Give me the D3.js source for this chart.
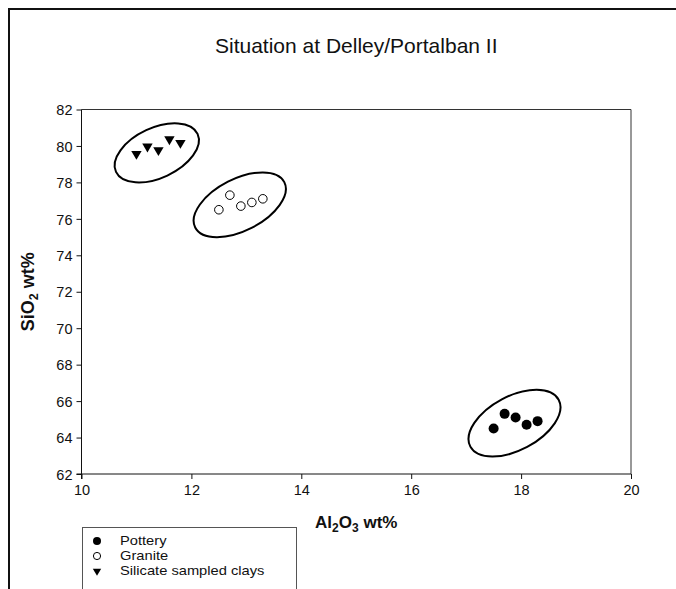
<!DOCTYPE html>
<html>
<head>
<meta charset="utf-8">
<script src="https://cdn.jsdelivr.net/npm/d3@7"></script>
<style>
  html, body { margin: 0; padding: 0; background: #fff; }
  svg { display: block; font-family: "Liberation Sans", Arial, sans-serif; }
</style>
</head>
<body>
<svg id="chart" width="676" height="589"></svg>
<script>
// Al2O3 vs SiO2 (wt%) for the three sample groups
const potteryAl = [17.5, 17.7, 17.9, 18.1, 18.3];
const potterySi = [64.5, 65.3, 65.1, 64.7, 64.9];
const graniteAl = [12.5, 12.7, 12.9, 13.1, 13.3];
const graniteSi = [76.5, 77.3, 76.7, 76.9, 77.1];
const claysAl = [11.0, 11.2, 11.4, 11.6, 11.8];
const claysSi = [79.5, 79.9, 79.7, 80.3, 80.1];

const seriesNames = ["Pottery", "Granite", "Silicate sampled clays"];
const xTicks = [10, 12, 14, 16, 18, 20];
const yTicks = [62, 64, 66, 68, 70, 72, 74, 76, 78, 80, 82];

// group outlines: centre of each grouping ellipse in data units
const groupCentreAl = [17.88, 12.88, 11.37];
const groupCentreSi = [64.79, 76.77, 79.62];

const svg = d3.select("#chart");
const W = 676, H = 589;
const plot = { left: 81.5, right: 631, top: 109.5, bottom: 474 };

const x = d3.scaleLinear().domain([10, 20]).range([plot.left, plot.right]);
const y = d3.scaleLinear().domain([62, 82]).range([plot.bottom, plot.top]);

// outer page frame
svg.append("rect")
  .attr("x", 9).attr("y", 9).attr("width", W + 20).attr("height", H + 20)
  .attr("fill", "none").attr("stroke", "#111").attr("stroke-width", 2);

// title
svg.append("text")
  .attr("x", (plot.left + plot.right) / 2).attr("y", 53)
  .attr("text-anchor", "middle").attr("font-size", 21).attr("fill", "#111")
  .text("Situation at Delley/Portalban II");

// plot frame (top and right)
svg.append("path")
  .attr("d", `M${plot.left},${plot.top}H${plot.right}V${plot.bottom}`)
  .attr("fill", "none").attr("stroke", "#333").attr("stroke-width", 1);

// axes
const xAxis = d3.axisBottom(x).tickValues(xTicks).tickSize(5).tickSizeOuter(0).tickPadding(4);
const yAxis = d3.axisLeft(y).tickValues(yTicks).tickSize(5).tickSizeOuter(0).tickPadding(4);

const gx = svg.append("g").attr("transform", `translate(0,${plot.bottom})`).call(xAxis);
const gy = svg.append("g").attr("transform", `translate(${plot.left},0)`).call(yAxis);
[gx, gy].forEach(g => {
  g.attr("font-size", 14.5).attr("font-family", "Liberation Sans, Arial, sans-serif");
  g.select(".domain").attr("stroke", "#111");
  g.selectAll(".tick line").attr("stroke", "#111");
  g.selectAll(".tick text").attr("fill", "#111");
});
gx.selectAll(".tick text").attr("dy", "0.85em");
gy.selectAll(".tick text").attr("dy", "0.36em");
// extend the axis lines past the corner like the tick marks
gx.select(".domain").attr("d", `M${plot.left - 5},0H${plot.right}`);
gy.select(".domain").attr("d", `M0,${plot.top}V${plot.bottom + 5}`);

// axis titles with subscripts
const xt = svg.append("text")
  .attr("x", (plot.left + plot.right) / 2).attr("y", 528)
  .attr("text-anchor", "middle").attr("font-size", 17).attr("font-weight", "bold").attr("fill", "#111");
xt.append("tspan").text("Al");
xt.append("tspan").attr("font-size", 12).attr("dy", 4).text("2");
xt.append("tspan").attr("dy", -4).text("O");
xt.append("tspan").attr("font-size", 12).attr("dy", 4).text("3");
xt.append("tspan").attr("dy", -4).text(" wt%");

const yt = svg.append("text")
  .attr("transform", `translate(34,${(plot.top + plot.bottom) / 2}) rotate(-90)`)
  .attr("text-anchor", "middle").attr("font-size", 18).attr("font-weight", "bold").attr("fill", "#111");
yt.append("tspan").text("SiO");
yt.append("tspan").attr("font-size", 12.5).attr("dy", 4).text("2");
yt.append("tspan").attr("dy", -4).text(" wt%");

// grouping ellipses
const ellipseShape = [
  { rx: 50, ry: 27, angle: -28 },
  { rx: 50, ry: 26, angle: -27 },
  { rx: 45, ry: 25, angle: -25 }
];
svg.append("g").selectAll("ellipse")
  .data(groupCentreAl.map((a, i) => ({ al: a, si: groupCentreSi[i], ...ellipseShape[i] })))
  .join("ellipse")
  .attr("transform", d => `translate(${x(d.al)},${y(d.si)}) rotate(${d.angle})`)
  .attr("rx", d => d.rx).attr("ry", d => d.ry)
  .attr("fill", "none").attr("stroke", "#000").attr("stroke-width", 2);

// markers
const triangle = s => `M${-s},${-s * 0.8}L${s},${-s * 0.8}L0,${s * 0.9}Z`;

const pts = (al, si) => al.map((a, i) => ({ al: a, si: si[i] }));

svg.append("g").selectAll("circle")
  .data(pts(potteryAl, potterySi)).join("circle")
  .attr("cx", d => x(d.al)).attr("cy", d => y(d.si)).attr("r", 5)
  .attr("fill", "#000");

svg.append("g").selectAll("circle")
  .data(pts(graniteAl, graniteSi)).join("circle")
  .attr("cx", d => x(d.al)).attr("cy", d => y(d.si)).attr("r", 4.3)
  .attr("fill", "#fff").attr("stroke", "#000").attr("stroke-width", 1);

svg.append("g").selectAll("path")
  .data(pts(claysAl, claysSi)).join("path")
  .attr("transform", d => `translate(${x(d.al)},${y(d.si)})`)
  .attr("d", triangle(5.2)).attr("fill", "#000");

// legend
const leg = svg.append("g");
leg.append("rect")
  .attr("x", 82.5).attr("y", 527.5).attr("width", 214).attr("height", 80)
  .attr("fill", "#fff").attr("stroke", "#555").attr("stroke-width", 1);
const legY = [541, 556, 571];
const legStretch = 1.13; // slightly wide legend lettering
seriesNames.forEach((name, i) => {
  const cy = legY[i];
  if (i === 0) {
    leg.append("circle").attr("cx", 97).attr("cy", cy).attr("r", 4).attr("fill", "#000");
  } else if (i === 1) {
    leg.append("circle").attr("cx", 97).attr("cy", cy).attr("r", 3.6)
      .attr("fill", "#fff").attr("stroke", "#000").attr("stroke-width", 1);
  } else {
    leg.append("path").attr("transform", `translate(97,${cy + 1})`)
      .attr("d", triangle(4.2)).attr("fill", "#000");
  }
  leg.append("text")
    .attr("transform", `translate(120,${cy}) scale(${legStretch},1)`)
    .attr("dy", "0.33em")
    .attr("font-size", 13).attr("fill", "#111").text(name);
});
</script>
</body>
</html>
